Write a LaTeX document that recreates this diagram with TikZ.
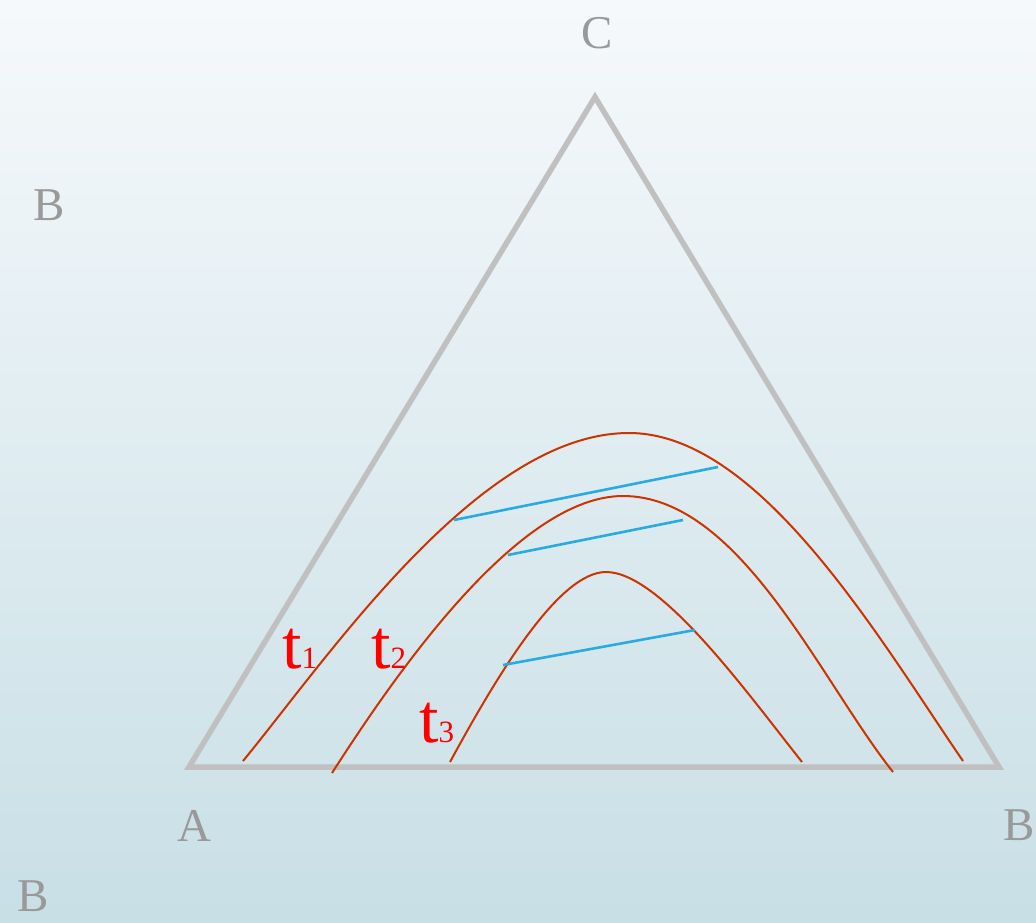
\documentclass[tikz,border=0pt]{standalone}
\usepackage{fontspec}
\setmainfont{Liberation Serif}
\definecolor{tri}{HTML}{C0C0C0}
\definecolor{lbl}{HTML}{999999}
\definecolor{crv}{HTML}{CC3300}
\definecolor{tie}{HTML}{29ABE2}
\definecolor{bgtop}{HTML}{F6F9FB}
\definecolor{bgbot}{HTML}{C8DFE6}
\begin{document}
\begin{tikzpicture}[x=1pt,y=-1pt,
  vlabel/.style={text=lbl,font=\fontsize{47}{47}\selectfont,anchor=base,inner sep=0pt},
  tlabel/.style={text=red,anchor=base west,inner sep=0pt},
  curve/.style={draw=crv,line width=2pt},
  tieline/.style={draw=tie,line width=2.6pt},
  side/.style={draw=tri,line width=5.5pt,line join=miter}]
\useasboundingbox (0,0) rectangle (1036,922);
\shade[top color=bgtop,bottom color=bgbot] (0,0) rectangle (1036,922);
% triangle
\coordinate (A) at (189,767);
\coordinate (B) at (999,767);
\coordinate (C) at (595,97);
\draw[side] (A) -- (B) -- (C) -- cycle;
% curves
\draw[curve] (243,761) .. controls (330,655) and (480,433) .. (629,433)
                       .. controls (760,433) and (880,640) .. (963,761);
\draw[curve] (332,773) .. controls (400,667) and (520,496) .. (623,496)
                       .. controls (740,496) and (820,680) .. (893,772);
\draw[curve] (450,762) .. controls (500,670) and (560,572) .. (606,572)
                       .. controls (660,572) and (745,690) .. (802,762);
% tie lines
\coordinate (p1) at (454,520); \coordinate (q1) at (718,467);
\coordinate (p2) at (508,555); \coordinate (q2) at (683,520);
\coordinate (p3) at (503,665); \coordinate (q3) at (695,630);
\draw[tieline] (p1) -- (q1);
\draw[tieline] (p2) -- (q2);
\draw[tieline] (p3) -- (q3);
% vertex labels
\node[vlabel] (lc) at (597,48) {C};
\node[vlabel] (lb1) at (49,220) {B};
\node[vlabel] (la) at (194,841) {A};
\node[vlabel] (lb2) at (1019,840) {B};
\node[vlabel] (lb3) at (33,911) {B};
% t labels
\node[tlabel] (t1) at (282,668) {\fontsize{70}{70}\selectfont t\fontsize{31}{31}\selectfont 1};
\node[tlabel] (t2) at (371,668) {\fontsize{70}{70}\selectfont t\fontsize{31}{31}\selectfont 2};
\node[tlabel] (t3) at (419,742) {\fontsize{70}{70}\selectfont t\fontsize{31}{31}\selectfont 3};
\end{tikzpicture}
\end{document}
